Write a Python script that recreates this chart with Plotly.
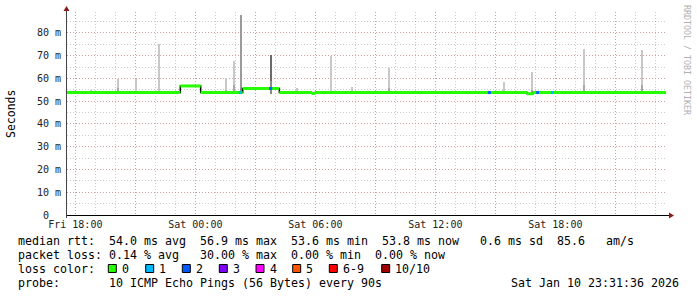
import plotly.graph_objects as go

# ---------------- data ----------------
t_start = "2026-01-09 17:35:00"
t_end = "2026-01-10 23:35:00"

# median RTT (ms): value holds from time[i] until time[i+1]
median_times = ["2026-01-09 17:35:00", "2026-01-09 23:15:00", "2026-01-10 00:16:00",
                "2026-01-10 02:22:00", "2026-01-10 04:12:00", "2026-01-10 05:50:00",
                "2026-01-10 05:59:00", "2026-01-10 16:35:00", "2026-01-10 16:53:00",
                "2026-01-10 23:31:36"]
median_ms = [53.8, 56.7, 53.8, 55.6, 53.8, 53.4, 53.8, 53.3, 53.8, 53.8]

# light smoke spikes (ms)
smoke_times = ["2026-01-09 18:46", "2026-01-09 20:09", "2026-01-09 21:02", "2026-01-09 22:11",
               "2026-01-10 01:32", "2026-01-10 01:56", "2026-01-10 05:06", "2026-01-10 06:48",
               "2026-01-10 07:51", "2026-01-10 09:42", "2026-01-10 15:22", "2026-01-10 15:27",
               "2026-01-10 16:51", "2026-01-10 19:27", "2026-01-10 22:21"]
smoke_min = [53.2, 53.2, 53.2, 53.2, 53.2, 53.2, 53.2, 53.2, 53.2, 53.2, 53.2, 53.2, 53.2, 53.2, 53.2]
smoke_max = [54.9, 59.8, 59.8, 75.2, 60.1, 67.7, 55.7, 69.9, 56.1, 64.5, 55.0, 58.6, 62.9, 73.0, 72.5]
smoke_dense = [54.5, 56.0, 54.5, 54.5, 55.0, 57.0, 54.5, 54.5, 54.5, 56.0, 54.5, 54.5, 55.0, 57.0, 57.0]

# heavy smoke spikes (ms)
heavy_times = ["2026-01-10 02:18", "2026-01-10 03:48"]
heavy_min = [53.2, 53.2]
heavy_max = [87.9, 70.3]
heavy_dense = [56.0, 59.0]

# samples with packet loss
loss_times = ["2026-01-10 02:15", "2026-01-10 03:46", "2026-01-10 14:42",
              "2026-01-10 17:07", "2026-01-10 17:51"]
loss_rtt = [53.8, 55.6, 53.8, 53.8, 53.8]
loss_count = [1, 2, 2, 2, 1]

loss_labels = ["0", "1", "2", "3", "4", "5", "6-9", "10/10"]
loss_colors = ["#26ff00", "#00b8ff", "#0059ff", "#7e00ff", "#ff00ff", "#ff5500", "#ff0000", "#a10000"]

x_tick_vals = ["2026-01-09 18:00", "2026-01-09 21:00", "2026-01-10 00:00", "2026-01-10 03:00",
               "2026-01-10 06:00", "2026-01-10 09:00", "2026-01-10 12:00", "2026-01-10 15:00",
               "2026-01-10 18:00", "2026-01-10 21:00"]
x_tick_text = ["Fri 18:00", "", "Sat 00:00", "", "Sat 06:00", "", "Sat 12:00", "", "Sat 18:00", ""]
y_tick_vals = [0, 10, 20, 30, 40, 50, 60, 70, 80]
y_tick_text = ["0\u00a0\u00a0", "10 m", "20 m", "30 m", "40 m", "50 m", "60 m", "70 m", "80 m"]

legend_lines = [
    "median rtt:  54.0 ms avg  56.9 ms max  53.6 ms min  53.8 ms now   0.6 ms sd  85.6   am/s",
    "packet loss: 0.14 % avg   30.00 % max  0.00 % min  0.00 % now",
    "loss color:",
    "probe:       10 ICMP Echo Pings (56 Bytes) every 90s",
]
timestamp = "Sat Jan 10 23:31:36 2026"

# ---------------- layout geometry ----------------
W, H = 697, 297
L, R, T, B = 67, 667, 12, 215
YMAX = 89.2
MONO = "DejaVu Sans Mono"


def px(x):
    return (x - L) / (R - L)


def py(y):
    return (B - y) / (B - T)


fig = go.Figure()

BAR_W = 3.0 * 60 * 1000

# light smoke
fig.add_trace(go.Bar(x=smoke_times, y=[a - b for a, b in zip(smoke_max, smoke_min)], base=smoke_min,
                     width=BAR_W, marker=dict(color="#c8c8c8", line=dict(width=0)), hoverinfo="skip"))
fig.add_trace(go.Bar(x=smoke_times, y=[a - b for a, b in zip(smoke_dense, smoke_min)], base=smoke_min,
                     width=BAR_W, marker=dict(color="#a8a8a8", line=dict(width=0)), hoverinfo="skip"))
# heavy smoke
fig.add_trace(go.Bar(x=heavy_times, y=[a - b for a, b in zip(heavy_max, heavy_min)], base=heavy_min,
                     width=BAR_W, marker=dict(color=["#9a9a9a", "#6a6a6a"], line=dict(width=0)), hoverinfo="skip"))
fig.add_trace(go.Bar(x=heavy_times, y=[a - b for a, b in zip(heavy_dense, heavy_min)], base=heavy_min,
                     width=BAR_W, marker=dict(color="#8a8a8a", line=dict(width=0)), hoverinfo="skip"))

# black step connectors
fig.add_trace(go.Scatter(x=median_times, y=median_ms, mode="lines",
                         line=dict(color="#000000", width=1.5, shape="hv"), hoverinfo="skip"))
# green median segments
gx, gy = [], []
for i in range(len(median_times) - 1):
    gx += [median_times[i], median_times[i + 1], None]
    gy += [median_ms[i], median_ms[i], None]
fig.add_trace(go.Scatter(x=gx, y=gy, mode="lines", line=dict(color=loss_colors[0], width=3),
                         hoverinfo="skip", connectgaps=False))
# loss-colored samples
fig.add_trace(go.Scatter(x=loss_times, y=loss_rtt, mode="markers",
                         marker=dict(symbol="square", size=3, color=[loss_colors[c] for c in loss_count],
                                     line=dict(width=0)), hoverinfo="skip"))

major = "rgba(210,120,120,0.55)"
minor = "rgba(170,170,170,0.6)"
dash = "1px,2px"

fig.update_layout(
    width=W, height=H, margin=dict(l=L, r=W - R, t=T, b=H - B),
    paper_bgcolor="white", plot_bgcolor="white", showlegend=False, barmode="overlay",
    bargap=0,
    xaxis=dict(type="date", range=[t_start, t_end], tickmode="array", tickvals=x_tick_vals,
               ticktext=x_tick_text, showgrid=True, gridcolor=major, griddash=dash, gridwidth=1,
               minor=dict(tickmode="linear", tick0="2026-01-09 18:00", dtick=3600000, showgrid=True,
                          gridcolor=minor, griddash=dash, gridwidth=1, ticks=""),
               ticks="", showline=False, zeroline=False, ticklabelstandoff=2,
               tickfont=dict(family=MONO, size=10, color="#222"), fixedrange=True),
    yaxis=dict(range=[0, YMAX], tickmode="array", tickvals=y_tick_vals, ticktext=y_tick_text,
               showgrid=True, gridcolor=major, griddash=dash, gridwidth=1,
               minor=dict(tickmode="linear", tick0=0, dtick=5, showgrid=True, gridcolor=minor,
                          griddash=dash, gridwidth=1, ticks=""),
               ticks="", showline=False, zeroline=False, ticklabelstandoff=5,
               tickfont=dict(family=MONO, size=10, color="#222"), fixedrange=True),
)

shapes = []
# axes lines
shapes.append(dict(type="line", xref="paper", yref="paper", x0=px(L - 0.5), x1=px(671), y0=py(B + 0.5), y1=py(B + 0.5),
                   line=dict(color="#000", width=1)))
shapes.append(dict(type="line", xref="paper", yref="paper", x0=px(L - 0.5), x1=px(L - 0.5), y0=py(218), y1=py(8),
                   line=dict(color="#444", width=1)))
# arrows
shapes.append(dict(type="path", xref="paper", yref="paper",
                   path=f"M {px(L-3.5)} {py(11)} L {px(L+2.5)} {py(11)} L {px(L-0.5)} {py(6)} Z",
                   fillcolor="#8b1a1a", line=dict(width=0)))
shapes.append(dict(type="path", xref="paper", yref="paper",
                   path=f"M {px(669)} {py(B-2.5)} L {px(669)} {py(B+3.5)} L {px(674)} {py(B+0.5)} Z",
                   fillcolor="#8b1a1a", line=dict(width=0)))

# legend squares
sq_left = [108.3, 145.7, 182.3, 219.3, 256.0, 292.7, 329.3, 381.7]
for xl, c in zip(sq_left, loss_colors):
    shapes.append(dict(type="rect", xref="paper", yref="paper", x0=px(xl), x1=px(xl + 8),
                       y0=py(272.5), y1=py(264.5), fillcolor=c, line=dict(color="#000", width=1)))

annotations = []
row_y = [241, 255, 269, 283]
for line, yy in zip(legend_lines, row_y):
    annotations.append(dict(text=line, xref="paper", yref="paper", x=px(16), y=py(yy),
                            xanchor="left", yanchor="middle", showarrow=False,
                            font=dict(family=MONO, size=11.63, color="#000")))
for xl, lab in zip(sq_left, loss_labels):
    annotations.append(dict(text=lab, xref="paper", yref="paper", x=px(xl + 11.5), y=py(269),
                            xanchor="left", yanchor="middle", showarrow=False,
                            font=dict(family=MONO, size=11.63, color="#000")))
annotations.append(dict(text=timestamp, xref="paper", yref="paper", x=px(681), y=py(283),
                        xanchor="right", yanchor="middle", showarrow=False,
                        font=dict(family=MONO, size=11.63, color="#000")))
annotations.append(dict(text="Seconds", xref="paper", yref="paper", x=px(11), y=py(114),
                        xanchor="center", yanchor="middle", showarrow=False, textangle=-90,
                        font=dict(family=MONO, size=11.5, color="#000")))
annotations.append(dict(text="RRDTOOL / TOBI OETIKER", xref="paper", yref="paper", x=px(687), y=py(60),
                        xanchor="center", yanchor="middle", showarrow=False, textangle=90,
                        font=dict(family=MONO, size=8.3, color="#b0b0b0")))

fig.update_layout(shapes=shapes, annotations=annotations)
fig.write_html("out.html", config={"displayModeBar": False})
